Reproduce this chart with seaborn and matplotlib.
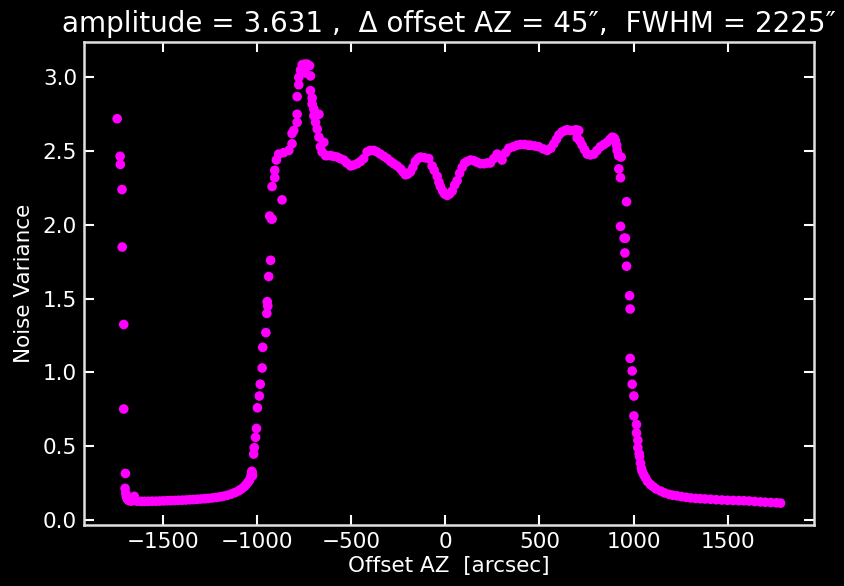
import matplotlib
matplotlib.use("Agg")
import matplotlib.pyplot as plt
import seaborn as sns
import pandas as pd

# ---- data ----
offset_az = [
    # left edge (isolated points)
    -1746, -1730, -1729, -1720, -1719, -1711, -1711, -1702, -1704, -1700, -1697,
    -1693, -1688, -1680, -1670, -1660, -1655, -1650,
    # left tail
    -1640, -1620, -1600, -1580, -1560, -1540, -1520, -1500, -1480, -1460, -1440,
    -1420, -1400, -1380, -1360, -1340, -1320, -1300, -1280, -1260, -1240, -1220,
    -1200, -1180, -1160, -1140, -1120, -1100, -1085, -1070, -1060, -1050, -1042,
    -1036, -1032, -1030, -1028, -1026,
    # rising edge
    -1020, -1017, -1010, -1005, -1000, -990, -985, -975, -972, -955, -950, -945,
    -948, -940, -930, -925, -935, -922, -869, -922, -908, -908, -899, -887,
    -860, -833, -816, -816, -807, -789, -789, -789, -780, -780, -771, -762,
    -750, -736, -723, -745, -718, -718, -709, -709, -700, -700, -673, -691,
    -682, -673, -647, -665, -656, -638,
    # plateau
    -630, -612, -595, -576, -560, -541, -525, -505, -490, -470, -452, -435,
    -417, -400, -381, -364, -346, -328, -310, -292, -275, -257, -239, -226,
    -213, -200, -186, -173, -160, -146, -133, -110, -89, -71, -60, -44, -35,
    -27, -15, -5, 9, 22, 36, 49, 62, 75, 89, 102, 115, 133, 151, 168, 186,
    205, 222, 239, 257, 275, 290, 301, 320, 337, 360, 380, 399, 420, 440,
    452, 475, 496, 520, 541, 560, 576, 590, 603, 620, 635, 647, 665, 680,
    695, 709, 700, 715, 727, 740, 754, 770, 789, 806, 824, 842, 860, 875,
    887, 897, 904, 910, 913, 920, 934,
    # falling edge
    922, 931, 963, 931, 950, 957, 954, 963, 979, 982, 982, 993, 993, 1002,
    1002, 1016, 1016, 1023, 1023, 1030, 1032, 1037, 1042, 1046, 1055, 1064,
    # right tail
    1075, 1090, 1105, 1120, 1144, 1165, 1190, 1210, 1232, 1255, 1280, 1305,
    1330, 1355, 1380, 1410, 1440, 1470, 1500, 1530, 1560, 1587, 1615, 1645,
    1675, 1700, 1730, 1760, 1782,
]

noise_variance = [
    # left edge
    2.72, 2.465, 2.41, 2.24, 1.85, 1.325, 0.752, 0.315, 0.214, 0.18, 0.16,
    0.145, 0.135, 0.13, 0.128, 0.15, 0.16, 0.135,
    # left tail
    0.127, 0.126, 0.126, 0.126, 0.127, 0.127, 0.128, 0.129, 0.13, 0.131, 0.132,
    0.133, 0.134, 0.135, 0.137, 0.138, 0.14, 0.142, 0.144, 0.146, 0.149, 0.152,
    0.156, 0.161, 0.167, 0.175, 0.185, 0.197, 0.21, 0.225, 0.24, 0.255, 0.27,
    0.29, 0.31, 0.33, 0.32, 0.30,
    # rising edge
    0.446, 0.49, 0.56, 0.62, 0.76, 0.84, 0.92, 1.03, 1.17, 1.27, 1.40, 1.45,
    1.48, 1.65, 1.76, 2.04, 2.06, 2.04, 2.17, 2.26, 2.32, 2.37, 2.44, 2.48,
    2.49, 2.505, 2.55, 2.62, 2.64, 2.695, 2.75, 2.87, 2.95, 3.0, 3.05, 3.086,
    3.09, 3.09, 3.08, 3.03, 3.01, 2.91, 2.86, 2.82, 2.785, 2.74, 2.75, 2.695,
    2.65, 2.595, 2.56, 2.53, 2.495, 2.47,
    # plateau
    2.47, 2.47, 2.465, 2.46, 2.45, 2.44, 2.42, 2.40, 2.405, 2.415, 2.43, 2.45,
    2.495, 2.505, 2.505, 2.495, 2.48, 2.465, 2.45, 2.43, 2.415, 2.40, 2.38, 2.36,
    2.34, 2.345, 2.36, 2.39, 2.43, 2.45, 2.46, 2.455, 2.45, 2.40, 2.37, 2.33, 2.29,
    2.26, 2.23, 2.21, 2.20, 2.21, 2.23, 2.27, 2.30, 2.35, 2.39, 2.42, 2.43, 2.44, 2.435, 2.425, 2.415,
    2.415, 2.42, 2.42, 2.45, 2.48, 2.46, 2.44, 2.49, 2.52, 2.53, 2.54, 2.545, 2.545, 2.54,
    2.54, 2.535, 2.53, 2.515, 2.505, 2.52, 2.55, 2.58, 2.61, 2.63, 2.64, 2.645, 2.64, 2.64,
    2.645, 2.64, 2.59, 2.57, 2.54, 2.51, 2.48, 2.475, 2.48, 2.505, 2.53, 2.545, 2.56, 2.58,
    2.595, 2.59, 2.57, 2.54, 2.505, 2.47, 2.46,
    # falling edge
    2.38, 2.32, 2.157, 1.99, 1.91, 1.91, 1.81, 1.72, 1.52, 1.43, 1.095, 1.01, 0.92, 0.84,
    0.705, 0.647, 0.59, 0.54, 0.49, 0.45, 0.43, 0.385, 0.35, 0.33, 0.305, 0.285,
    # right tail
    0.26, 0.24, 0.225, 0.21, 0.196, 0.183, 0.173, 0.167, 0.163, 0.158, 0.153, 0.149,
    0.146, 0.144, 0.142, 0.14, 0.137, 0.135, 0.133, 0.132, 0.131, 0.13, 0.128, 0.125,
    0.122, 0.12, 0.118, 0.116, 0.114,
]

title_text = "amplitude = 3.631 ,  \u0394 offset AZ = 45\u2033,  FWHM = 2225\u2033"
x_label = "Offset AZ  [arcsec]"
y_label = "Noise Variance"

df = pd.DataFrame({"x": offset_az, "y": noise_variance})

sns.set_style("ticks")
plt.rcParams["font.family"] = ["DejaVu Sans"]

fig = plt.figure(figsize=(8.45, 5.86), dpi=100, facecolor="black")
ax = fig.add_axes([0.0994, 0.104, 0.8636, 0.824])
ax.set_facecolor("black")

sns.scatterplot(data=df, x="x", y="y", color="#ff00ff", s=48, linewidth=0,
                edgecolor="none", ax=ax)

ax.set_title(title_text, color="white", fontsize=20, pad=7)
ax.set_xlabel(x_label, color="white", fontsize=15.5, labelpad=3)
ax.set_ylabel(y_label, color="white", fontsize=15.5, labelpad=6)

ax.set_xticks([-1500, -1000, -500, 0, 500, 1000, 1500])
ax.set_yticks([0.0, 0.5, 1.0, 1.5, 2.0, 2.5, 3.0])
ax.tick_params(axis="both", which="major", direction="in", length=7, width=1.5,
               colors="white", labelsize=15.5, top=True, right=True, pad=5)
for sp in ax.spines.values():
    sp.set_visible(True)
    sp.set_color("#e0e0e0")
    sp.set_linewidth(1.8)

fig.savefig("out.png", dpi=100, facecolor="black")
